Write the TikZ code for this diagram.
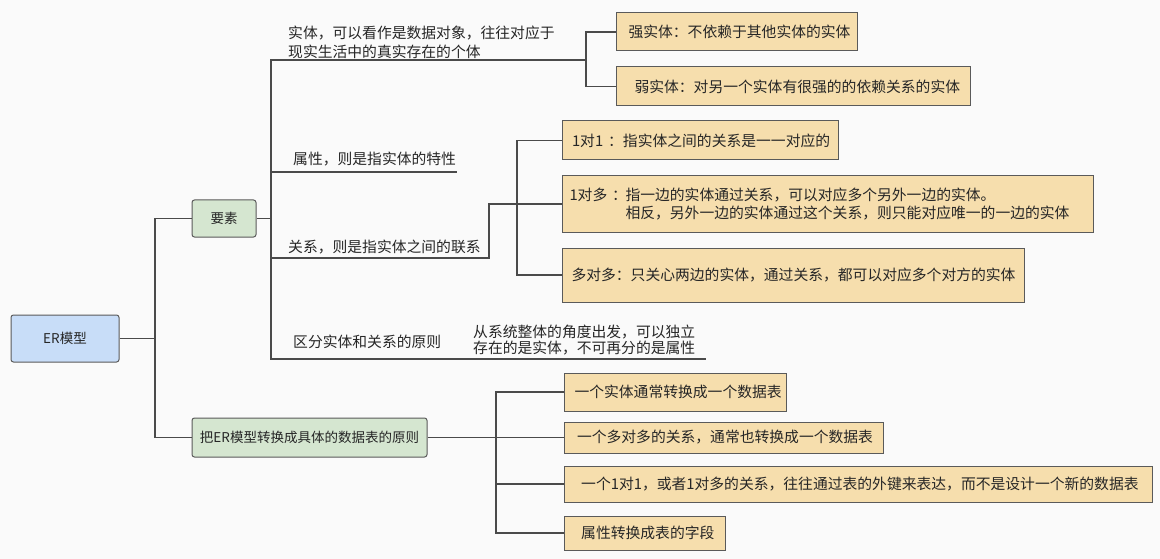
\documentclass[tikz,border=0pt]{standalone}
\usepackage{fontspec}
\newfontfamily\cjk{Noto Sans CJK SC}
\definecolor{bg}{HTML}{FAFAFA}
\definecolor{ln}{HTML}{4A4A4A}
\definecolor{bd}{HTML}{5A5A5A}
\definecolor{ob}{HTML}{F6DEAD}
\definecolor{gb}{HTML}{D5E6D0}
\definecolor{bb}{HTML}{C8DDF8}
\definecolor{tx}{HTML}{262626}
\begin{document}
\begin{tikzpicture}[x=1pt,y=-1pt,
  every node/.style={font=\cjk\fontsize{14.8}{18.5}\selectfont, text=tx, execute at begin node={\parindent=0pt}},
  conn/.style={draw=ln, line width=1.1pt},
  obox/.style={draw=bd, line width=1pt, fill=ob, anchor=west, inner xsep=0pt, inner ysep=0pt, align=left},
  gbox/.style={draw=bd, line width=1pt, fill=gb, rounded corners=2.5pt, inner sep=0pt, font=\cjk\fontsize{13.5}{16}\selectfont},
  bbox/.style={gbox, fill=bb},
  lbl/.style={anchor=west, inner sep=0pt, align=left},
]
\useasboundingbox[fill=bg] (0,0) rectangle (1160,559);

% main nodes
\node[bbox, minimum width=108, minimum height=47] (er) at (65,338.5) {ER模型};
\node[gbox, minimum width=64, minimum height=37] (ys) at (224,218.5) {要素};
\node[gbox, minimum width=235, minimum height=39] (zh) at (309.5,437.5) {把ER模型转换成具体的数据表的原则};

% entity boxes
\node[obox, text width=241, minimum height=38] (qs) at (616,32) {\hspace*{12pt}强实体：不依赖于其他实体的实体};
\node[obox, text width=354, minimum height=39] (rs) at (616,86.5) {\hspace*{18pt}弱实体：对另一个实体有很强的的依赖关系的实体};

% relation boxes
\node[obox, text width=276, minimum height=39] (y1) at (562,140.5) {\hspace*{9.5pt}1对1 ：指实体之间的关系是一一对应的};
\node[obox, text width=531, minimum height=57] (y2) at (562,204) {\hspace*{7pt}\makebox[56pt][l]{1对多 ：}指一边的实体通过关系，可以对应多个另外一边的实体。\\\hspace*{63pt}相反，另外一边的实体通过这个关系，则只能对应唯一的一边的实体};
\node[obox, text width=462, minimum height=54] (y3) at (562,275) {\hspace*{9pt}多对多：只关心两边的实体，通过关系，都可以对应多个对方的实体};

% table boxes
\node[obox, text width=222, minimum height=38] (t1) at (564,392) {\hspace*{10pt}一个实体通常转换成一个数据表};
\node[obox, text width=319, minimum height=31] (t2) at (564,437.5) {\hspace*{12.5pt}一个多对多的关系，通常也转换成一个数据表};
\node[obox, text width=588, minimum height=36] (t3) at (564,484) {\hspace*{16.7pt}一个1对1，或者1对多的关系，往往通过表的外键来表达，而不是设计一个新的数据表};
\node[obox, text width=161, minimum height=34] (t4) at (564,533) {\hspace*{16.7pt}属性转换成表的字段};

% branch labels
\node[lbl, font=\cjk\fontsize{14.8}{19}\selectfont] (lst) at (288,42.5) {实体，可以看作是数据对象，往往对应于\\现实生活中的真实存在的个体};
\node[lbl] (lsx) at (293,159) {属性，则是指实体的特性};
\node[lbl] (lgx) at (288,247) {关系，则是指实体之间的联系};
\node[lbl] (lqf) at (293,342) {区分实体和关系的原则};
\node[lbl, font=\cjk\fontsize{14.8}{16.5}\selectfont] (lqf2) at (473,340) {从系统整体的角度出发，可以独立\\存在的是实体，不可再分的是属性};

% connectors: root
\coordinate (a1) at (155,338.5);
\draw[conn] (er.east) -- (a1);
\draw[conn] (a1) |- (ys.west);
\draw[conn] (a1) |- (zh.west);

% connectors: 要素
\coordinate (b1) at (271,218.5);
\coordinate (e1) at (586,60);
\coordinate (e2) at (457,172);
\coordinate (e3) at (489,258);
\coordinate (e4) at (517,204);
\coordinate (e5) at (706,359);
\draw[conn] (ys.east) -- (b1);
\draw[conn] (b1) |- (e1);
\draw[conn] (b1) |- (e2);
\draw[conn] (b1) |- (e3) |- (e4);
\draw[conn] (b1) |- (e5);
\draw[conn] (e1) |- (qs.west);
\draw[conn] (e1) |- (rs.west);
\draw[conn] (e4) |- (y1.west);
\draw[conn] (e4) |- (y2.west);
\draw[conn] (e4) |- (y3.west);

% connectors: 转换原则
\coordinate (f1) at (496,437.5);
\draw[conn] (zh.east) -- (f1);
\draw[conn] (f1) |- (t1.west);
\draw[conn] (f1) |- (t2.west);
\draw[conn] (f1) |- (t3.west);
\draw[conn] (f1) |- (t4.west);
\end{tikzpicture}
\end{document}
